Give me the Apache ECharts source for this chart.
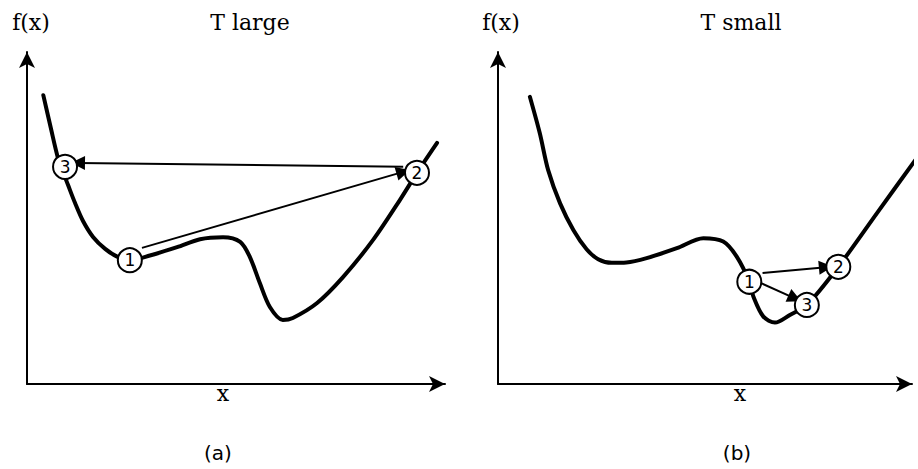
<!DOCTYPE html>
<html><head><meta charset="utf-8">
<script src="https://cdn.jsdelivr.net/npm/echarts@6/dist/echarts.min.js"></script>
<style>html,body{margin:0;padding:0;background:#fff}#c{width:918px;height:469px}</style>
</head><body><div id="c"></div>
<script>
// ---- Panel (a): T large ----
const curveA = [[3.9,87.0],[5.7,77.1],[7.4,68.1],[8.6,63.9],[9.8,60.0],[11.5,54.5],[13.4,49.1],[15.8,44.3],[18.7,40.7],[21.8,38.2],[24.6,37.3],[29.4,38.7],[35.9,41.2],[41.4,43.6],[46.9,44.2],[51.0,42.8],[53.3,38.3],[55.7,30.4],[58.1,23.2],[61.2,19.3],[63.6,19.9],[69.4,24.4],[75.6,32.2],[82.8,43.4],[89.2,55.4],[93.3,63.6],[98.1,72.6]];
const statesA = [[24.6,37.3,'1'],[93.3,63.6,'2'],[9.1,65.4,'3']];
const movesA = [[[27.5,41.0],[90.0,63.9]],[[90.0,65.4],[12.2,66.6]]];
// ---- Panel (b): T small ----
const curveB = [[7.7,86.5],[10.1,75.5],[12.1,64.5],[15.0,54.4],[18.2,46.4],[21.4,40.6],[24.2,37.6],[27.5,36.5],[31.0,36.6],[35.9,37.9],[43.2,40.9],[49.6,43.9],[54.4,42.9],[57.7,38.3],[60.7,30.8],[61.7,26.3],[64.1,20.3],[66.9,18.5],[70.5,20.8],[74.6,23.8],[82.2,35.3],[91.5,51.4],[101.4,68.5]];
const statesB = [[60.7,30.8,'1'],[82.2,35.3,'2'],[74.6,23.8,'3']];
const movesB = [[[63.9,33.4],[79.2,35.2]],[[63.7,30.3],[71.7,25.8]]];
// ---- Texts ----
const panelTitles = ['T large','T small'];
const panelTags = ['(a)','(b)'];
const yName = 'f(x)', xName = 'x';

const chart = echarts.init(document.getElementById('c'), null, {renderer:'svg'});
const axisLine = {show:true, symbol:['none','arrow'], symbolSize:[12,16], lineStyle:{color:'#000', width:2}};
function xa(i){return {type:'value', gridIndex:i, min:0, max:100, axisLine, axisTick:{show:false}, axisLabel:{show:false}, splitLine:{show:false}};}
function ya(i){return {type:'value', gridIndex:i, min:0, max:100, axisLine, axisTick:{show:false}, axisLabel:{show:false}, splitLine:{show:false}};}
function curve(i,d,clip){return {type:'line', xAxisIndex:i, yAxisIndex:i, data:d, smooth:0.3, symbol:'none', clip:clip, lineStyle:{color:'#000', width:4, join:'round', cap:'round'}, z:2, silent:true};}
function moves(i,d){return {type:'lines', coordinateSystem:'cartesian2d', xAxisIndex:i, yAxisIndex:i, data:d.map(c=>({coords:c})), symbol:['none','triangle'], symbolSize:14, lineStyle:{color:'#000', width:2, opacity:1}, z:3, silent:true};}
function states(i,d){return {type:'scatter', xAxisIndex:i, yAxisIndex:i, data:d, symbol:'circle', symbolSize:24, itemStyle:{color:'#fff', borderColor:'#000', borderWidth:2, opacity:1}, label:{show:true, position:'inside', formatter:p=>p.value[2], color:'#000', fontFamily:'DejaVu Sans', fontSize:17}, z:4, silent:true};}
const serif = {fontFamily:'DejaVu Serif', fontSize:22, fill:'#000'};
function txt(t,x,y,st){return {type:'text', x, y, style:Object.assign({text:t, textAlign:'center', textVerticalAlign:'middle'}, st)};}
const tag = {fontFamily:'DejaVu Sans', fontSize:20, fill:'#000'};
chart.setOption({
  backgroundColor:'#fff',
  animation:false,
  grid:[{left:27, top:52, width:418, height:332},{left:498, top:52, width:414, height:332}],
  xAxis:[xa(0),xa(1)],
  yAxis:[ya(0),ya(1)],
  series:[curve(0,curveA,true), moves(0,movesA), states(0,statesA),
          curve(1,curveB,false), moves(1,movesB), states(1,statesB)],
  graphic:[
    txt(yName,31,22,serif), txt(panelTitles[0],250,22,serif), txt(xName,223,393,serif),
    txt(panelTags[0],218,453,tag),
    txt(yName,501,22,serif), txt(panelTitles[1],741,22,serif), txt(xName,740,393,serif),
    txt(panelTags[1],737,453,tag)
  ]
});
</script></body></html>
